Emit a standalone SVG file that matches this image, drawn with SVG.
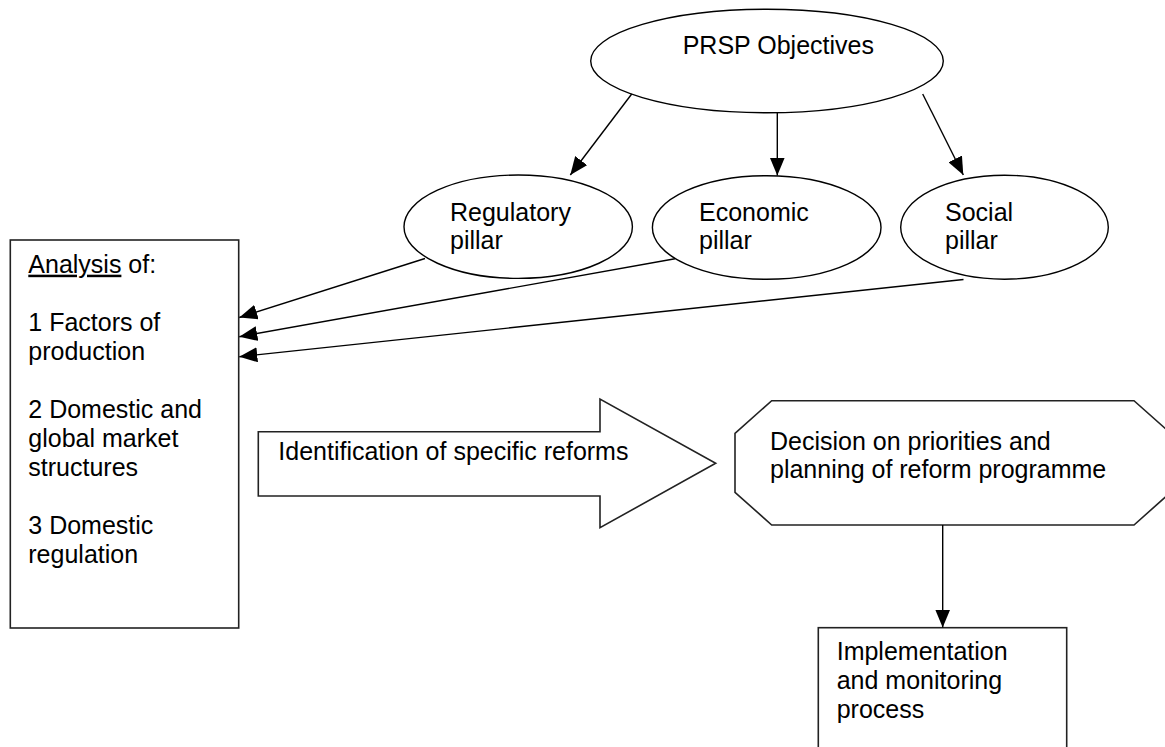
<svg xmlns="http://www.w3.org/2000/svg" width="1165" height="747" viewBox="0 0 1165 747">
  <style>
    .shape { fill: #fff; stroke: #000; stroke-width: 1.4; }
    .box { fill: #fff; stroke: #222; stroke-width: 1.6; }
    .lbl { font-family: "Liberation Sans", Arial, sans-serif; font-size: 25px; fill: #000; }
    .conn { stroke: #000; stroke-width: 1.4; fill: none; marker-end: url(#ah); }
  </style>
  <defs>
    <marker id="ah" markerUnits="userSpaceOnUse" markerWidth="18" markerHeight="15" refX="18" refY="7.5" orient="auto" viewBox="0 0 18 15">
      <path d="M0,0 L18,7.5 L0,15 z" fill="#000"/>
    </marker>
  </defs>
  <rect width="1165" height="747" fill="#fff"/>

  <g id="prsp-objectives">
    <ellipse class="shape" cx="767" cy="61" rx="176.3" ry="51.7"/>
    <text class="lbl" x="682.7" y="54.3">PRSP Objectives</text>
  </g>

  <g id="regulatory-pillar">
    <ellipse class="shape" cx="518.2" cy="226.7" rx="114.2" ry="51.7"/>
    <text class="lbl" x="450" y="221">Regulatory</text>
    <text class="lbl" x="450" y="249.3">pillar</text>
  </g>

  <g id="economic-pillar">
    <ellipse class="shape" cx="766.7" cy="227.5" rx="114.3" ry="51.8"/>
    <text class="lbl" x="699" y="221">Economic</text>
    <text class="lbl" x="699" y="249.3">pillar</text>
  </g>

  <g id="social-pillar">
    <ellipse class="shape" cx="1004.5" cy="227.2" rx="103.8" ry="52"/>
    <text class="lbl" x="945" y="221">Social</text>
    <text class="lbl" x="945" y="249.3">pillar</text>
  </g>

  <g id="analysis">
    <rect class="box" x="10.3" y="240" width="228.4" height="388"/>
    <text class="lbl" x="28.3" y="272.7"><tspan style="text-decoration:underline">Analysis</tspan> of:</text>
    <text class="lbl" x="28.3" y="330.7">1 Factors of</text>
    <text class="lbl" x="28.3" y="359.5">production</text>
    <text class="lbl" x="28.3" y="418">2 Domestic and</text>
    <text class="lbl" x="28.3" y="447">global market</text>
    <text class="lbl" x="28.3" y="476">structures</text>
    <text class="lbl" x="28.3" y="534">3 Domestic</text>
    <text class="lbl" x="28.3" y="562.7">regulation</text>
  </g>

  <g id="identification">
    <path class="box" d="M258.3,431.7 L600,431.7 L600,399 L715.7,463.3 L600,527.7 L600,496 L258.3,496 Z"/>
    <text class="lbl" x="278.3" y="460">Identification of specific reforms</text>
  </g>

  <g id="decision">
    <path class="box" d="M771.7,400.7 L1134,400.7 L1170.7,433.3 L1170.7,492.3 L1134,525 L771.7,525 L735,492.3 L735,433.3 Z"/>
    <text class="lbl" x="770" y="449.5">Decision on priorities and</text>
    <text class="lbl" x="770" y="478">planning of reform programme</text>
  </g>

  <g id="implementation">
    <rect class="box" x="818.3" y="627.7" width="248.4" height="140"/>
    <text class="lbl" x="836.7" y="660">Implementation</text>
    <text class="lbl" x="836.7" y="689">and monitoring</text>
    <text class="lbl" x="836.7" y="717.5">process</text>
  </g>

  <g id="connectors">
    <line class="conn" x1="631.7" y1="94" x2="570.3" y2="175"/>
    <line class="conn" x1="777.3" y1="112.7" x2="777.3" y2="175.5"/>
    <line class="conn" x1="922.7" y1="94" x2="963.3" y2="175"/>
    <line class="conn" x1="425" y1="258.5" x2="239.3" y2="317.5"/>
    <line class="conn" x1="675" y1="258.7" x2="239.3" y2="336.7"/>
    <line class="conn" x1="963.5" y1="279.5" x2="239.3" y2="356.7"/>
    <line class="conn" x1="942.7" y1="525" x2="942.7" y2="627.5"/>
  </g>
</svg>
